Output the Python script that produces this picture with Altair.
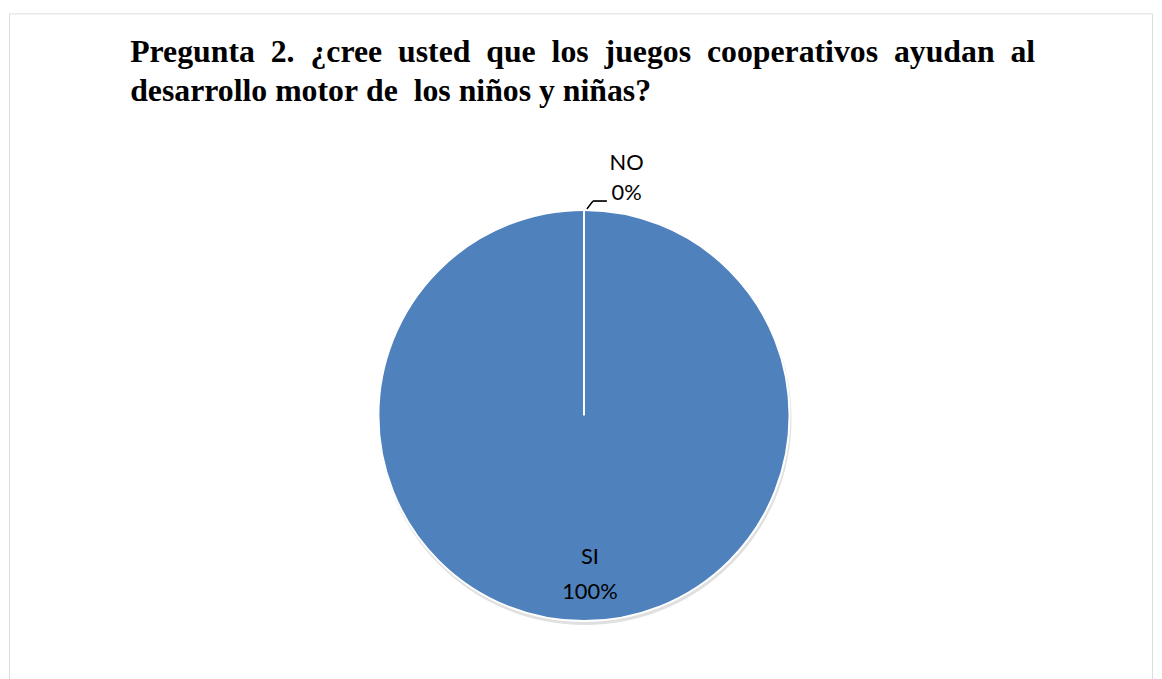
import altair as alt
import pandas as pd

categories = ["SI", "NO"]
values = [100, 0]
pct_labels = ["100%", "0%"]
title_line1 = "Pregunta 2. ¿cree usted que los juegos cooperativos ayudan al"
title_line2 = "desarrollo motor de  los niños y niñas?"

NB = "\u00a0"
line1 = (NB * 2).join(title_line1.split(" "))
line2 = title_line2.replace(" ", NB)

df = pd.DataFrame({"cat": categories, "value": values, "pct": pct_labels, "idx": [0, 1]})
df["label"] = df["cat"] + "\n" + df["pct"]

W, H = 1151, 680
CX, CY, R = 579, 405, 207
PIE = "#4F81BD"

base = alt.Chart(df)

shadow = base.mark_arc(radius=R + 1, color="#000000", opacity=0.12).encode(
    theta=alt.Theta("value:Q", stack=True),
    order=alt.Order("idx:Q"),
    detail="cat:N",
    x=alt.value(CX + 1),
    y=alt.value(CY + 3),
)

pie = base.mark_arc(radius=R, stroke="white", strokeWidth=2, color=PIE).encode(
    theta=alt.Theta("value:Q", stack=True),
    order=alt.Order("idx:Q"),
    detail="cat:N",
    x=alt.value(CX),
    y=alt.value(CY),
)

lab_si = base.transform_filter(alt.datum.cat == "SI").mark_text(
    radius=143, dx=6, font="Lato", fontSize=22, lineBreak="\n", lineHeight=35, color="#000000"
).encode(
    theta=alt.Theta("value:Q", stack=True),
    text="label:N",
    x=alt.value(CX),
    y=alt.value(CY),
)

lab_no = base.transform_filter(alt.datum.cat == "NO").mark_text(
    radius=254, dx=43, font="Lato", fontSize=22, lineBreak="\n", lineHeight=30, color="#000000"
).encode(
    theta=alt.Theta("value:Q", stack=True),
    text="label:N",
    x=alt.value(CX),
    y=alt.value(CY),
)

lead1 = base.mark_rule(color="#000000", strokeWidth=1.2).encode(
    x=alt.value(CX + 3), x2=alt.value(CX + 9), y=alt.value(CY - R - 1), y2=alt.value(CY - R - 9)
)
lead2 = base.mark_rule(color="#000000", strokeWidth=1.2).encode(
    x=alt.value(CX + 9), x2=alt.value(CX + 23), y=alt.value(CY - R - 9)
)

title_df = pd.DataFrame({"t": [line1 + "\n" + line2]})
title = alt.Chart(title_df).mark_text(
    font="Liberation Serif", fontSize=32, fontWeight="bold", align="left",
    baseline="alphabetic", lineBreak="\n", lineHeight=39, color="#000000"
).encode(text="t:N", x=alt.value(122), y=alt.value(49))

chart = alt.layer(shadow, pie, lead1, lead2, lab_si, lab_no, title).properties(
    width=W, height=H,
    autosize=alt.AutoSizeParams(type="none"),
    padding={"top": 3, "left": 1, "right": 2, "bottom": 0},
).configure_view(stroke="#858585", strokeWidth=2).configure(background="white")

chart.save("out.html", embed_options={"renderer": "svg", "actions": False})
